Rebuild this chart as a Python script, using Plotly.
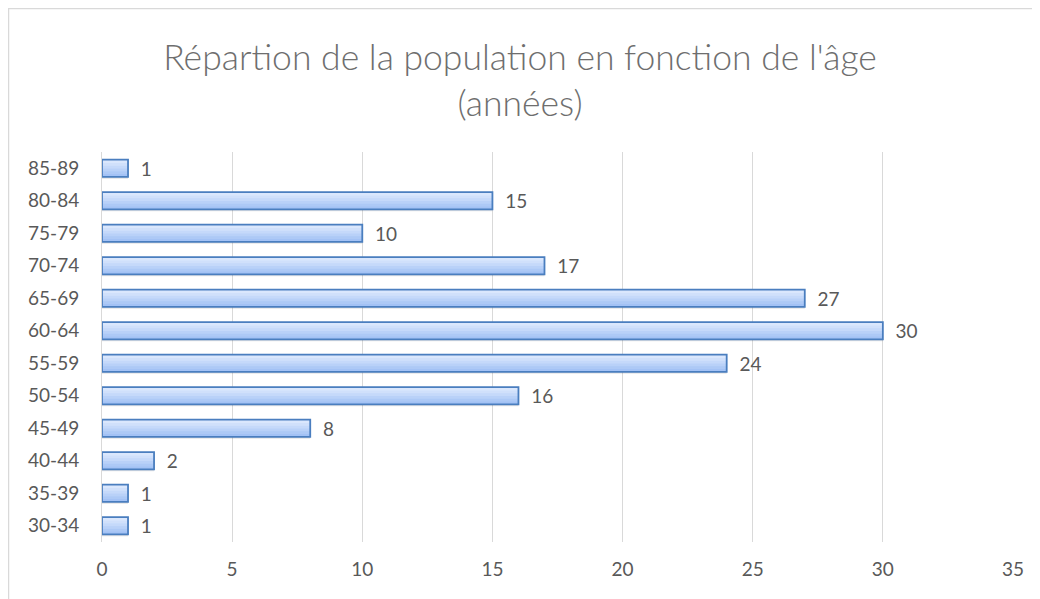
import plotly.graph_objects as go

categories = ["30-34", "35-39", "40-44", "45-49", "50-54", "55-59", "60-64",
              "65-69", "70-74", "75-79", "80-84", "85-89"]
values = [1, 1, 2, 8, 16, 24, 30, 27, 17, 10, 15, 1]
x_ticks = [0, 5, 10, 15, 20, 25, 30, 35]

GRAY = "#595959"
TITLE_GRAY = "#6e6e6e"
FONT = "Lato"
BW = 0.53  # bar thickness in category units
half = BW / 2

fig = go.Figure()

# soft shadow under each bar
fig.add_trace(go.Bar(
    y=categories, x=values, orientation="h", width=BW, offset=-half - 0.06,
    marker=dict(color="rgba(0,0,0,0.10)", line=dict(width=0)),
    hoverinfo="skip",
))

# vertical gradient made of stacked layers (bottom darker, top lighter)
layers = [(1.00, "#a3c2f5"), (0.84, "#adc9f6"), (0.68, "#b9d1f8"),
          (0.52, "#c5d9fa"), (0.36, "#d0e0fb"), (0.20, "#dae7fd")]
for frac, col in layers:
    w = BW * frac
    fig.add_trace(go.Bar(
        y=categories, x=values, orientation="h", width=w, offset=half - w,
        marker=dict(color=col, line=dict(width=0)),
        hoverinfo="skip",
    ))

# outline + labels
fig.add_trace(go.Bar(
    y=categories, x=values, orientation="h", width=BW, offset=-half,
    marker=dict(color="rgba(0,0,0,0)", line=dict(color="#4a7ebf", width=1.8)),
    text=values, texttemplate="  %{text}", textposition="outside",
    constraintext="none",
    textfont=dict(color=GRAY, size=19, family=FONT),
    cliponaxis=False,
))

W, H = 1040, 599
L, R, T, B = 94, 35, 144, 65
pw, ph = W - L - R, H - T - B

fig.update_layout(
    width=W, height=H,
    margin=dict(l=L, r=R, t=T, b=B),
    paper_bgcolor="white", plot_bgcolor="white",
    barmode="overlay",
    showlegend=False,
    font=dict(family=FONT, color=GRAY, size=19),
    title=dict(
        text="Répartion de la population en fonction de l'âge<br>(années)",
        x=512 / W, xref="container", xanchor="center",
        y=1 - 62 / H, yref="container", yanchor="top",
        font=dict(size=35.5, color=TITLE_GRAY, family=FONT, weight=300),
    ),
    xaxis=dict(range=[0, 35], tickvals=x_ticks, showgrid=True, gridcolor="#d9d9d9",
               gridwidth=1, zeroline=False, showline=False,
               tickfont=dict(size=19, color=GRAY), ticklabelstandoff=14),
    yaxis=dict(categoryorder="array", categoryarray=categories, showgrid=False,
               showline=True, linecolor="#d9d9d9", linewidth=1, zeroline=False,
               tickfont=dict(size=19, color=GRAY), ticklabelstandoff=18,
               range=[-0.5, len(categories) - 0.5]),
    shapes=[
        dict(type="line", xref="paper", yref="paper",
             x0=(0 - L) / pw, x1=(W + 5 - L) / pw,
             y0=(H - B - 0.5) / ph, y1=(H - B - 0.5) / ph,
             line=dict(color="#d9d9d9", width=1.5)),
        dict(type="line", xref="paper", yref="paper",
             x0=(0.5 - L) / pw, x1=(0.5 - L) / pw,
             y0=(H - B) / ph, y1=(-10 - B) / ph,
             line=dict(color="#d9d9d9", width=1.5)),
    ],
)

fig.write_html("out.html")
